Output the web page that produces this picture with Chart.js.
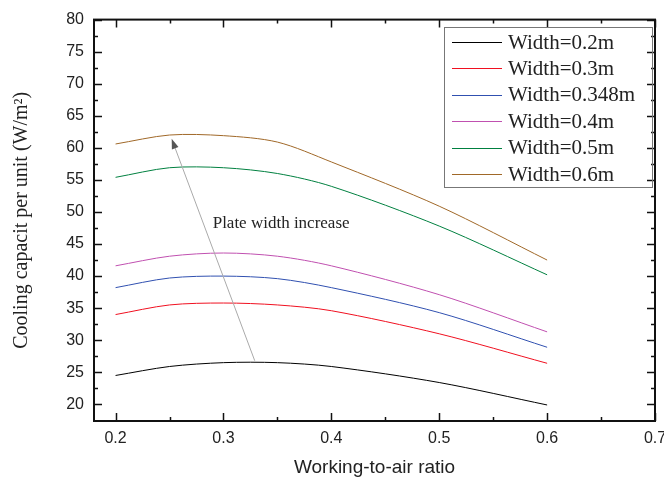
<!DOCTYPE html>
<html>
<head>
<meta charset="utf-8">
<script src="https://cdn.jsdelivr.net/npm/chart.js@4/dist/chart.umd.min.js"></script>
<style>
  html, body { margin: 0; padding: 0; background: #fff; }
  #wrap { width: 664px; height: 487px; }
</style>
</head>
<body>
<div id="wrap"><canvas id="grafico"></canvas></div>
<script>
// dados
const ratios = [0.2, 0.25, 0.3, 0.35, 0.4, 0.5, 0.6];
const w02 = [24.5, 25.9, 26.5, 26.5, 25.9, 23.4, 19.9];
const w03 = [34.0, 35.5, 35.8, 35.5, 34.6, 31.0, 26.4];
const w0348 = [38.2, 39.7, 40.0, 39.6, 38.2, 34.3, 28.9];
const w04 = [41.6, 43.1, 43.6, 43.1, 41.6, 37.1, 31.3];
const w05 = [55.4, 56.9, 56.9, 56.0, 54.0, 47.8, 40.2];
const w06 = [60.6, 62.0, 61.9, 60.9, 57.8, 50.9, 42.5];
const labels = ['Width=0.2m', 'Width=0.3m', 'Width=0.348m', 'Width=0.4m', 'Width=0.5m', 'Width=0.6m'];
const colors = ['#000000', '#f01020', '#3050b0', '#c050b0', '#008040', '#a06828'];
const xTicks = [0.2, 0.3, 0.4, 0.5, 0.6, 0.7];
const yTicks = [20, 25, 30, 35, 40, 45, 50, 55, 60, 65, 70, 75, 80];

const serie = (ys) => ys.map((y, i) => ({ x: ratios[i], y: y }));
const todas = [w02, w03, w0348, w04, w05, w06];

// moldura, ticks internos, legenda e seta
const extras = {
  id: 'extras',
  afterDraw(chart) {
    const ctx = chart.ctx;
    const a = chart.chartArea;
    const sx = chart.scales.x;
    const sy = chart.scales.y;
    ctx.save();
    ctx.strokeStyle = '#111';
    ctx.lineWidth = 1.5;
    // ticks x
    for (let v = 0.2; v <= 0.7001; v += 0.05) {
      const px = Math.round(sx.getPixelForValue(v)) + 0.5;
      const len = Math.abs((v * 10) - Math.round(v * 10)) < 0.01 ? 8 : 4;
      ctx.beginPath();
      ctx.moveTo(px, a.bottom); ctx.lineTo(px, a.bottom - len);
      ctx.moveTo(px, a.top); ctx.lineTo(px, a.top + len);
      ctx.stroke();
    }
    // ticks y
    for (let v = 20; v <= 80; v += 2.5) {
      const py = Math.round(sy.getPixelForValue(v)) + 0.5;
      const len = v % 5 === 0 ? 8 : 4;
      ctx.beginPath();
      ctx.moveTo(a.left, py); ctx.lineTo(a.left + len, py);
      ctx.moveTo(a.right, py); ctx.lineTo(a.right - len, py);
      ctx.stroke();
    }
    ctx.lineWidth = 2;
    ctx.strokeRect(a.left, a.top, a.right - a.left, a.bottom - a.top);

    // seta
    const x0 = sx.getPixelForValue(0.329), y0 = sy.getPixelForValue(26.8);
    const x1 = sx.getPixelForValue(0.252), y1 = sy.getPixelForValue(61.4);
    const ang = Math.atan2(y1 - y0, x1 - x0);
    ctx.strokeStyle = '#aaa';
    ctx.lineWidth = 1;
    ctx.beginPath();
    ctx.moveTo(x0, y0); ctx.lineTo(x1 - 8 * Math.cos(ang), y1 - 8 * Math.sin(ang));
    ctx.stroke();
    ctx.fillStyle = '#555';
    ctx.beginPath();
    ctx.moveTo(x1, y1);
    ctx.lineTo(x1 - 10 * Math.cos(ang) + 3.5 * Math.sin(ang), y1 - 10 * Math.sin(ang) - 3.5 * Math.cos(ang));
    ctx.lineTo(x1 - 10 * Math.cos(ang) - 3.5 * Math.sin(ang), y1 - 10 * Math.sin(ang) + 3.5 * Math.cos(ang));
    ctx.closePath();
    ctx.fill();
    ctx.fillStyle = '#222';
    ctx.font = '17px "Liberation Serif", "Times New Roman", serif';
    ctx.textBaseline = 'middle';
    ctx.fillText('Plate width increase', sx.getPixelForValue(0.29), sy.getPixelForValue(48.2));

    // legenda
    const lx = 444, ly = 27, lw = 208, lh = 160;
    ctx.strokeStyle = '#777';
    ctx.lineWidth = 1;
    ctx.strokeRect(lx + 0.5, ly + 0.5, lw, lh);
    ctx.font = '21px "Liberation Serif", "Times New Roman", serif';
    chart.data.datasets.forEach((ds, i) => {
      const yy = 42 + i * 26.4;
      ctx.strokeStyle = ds.borderColor;
      ctx.beginPath();
      ctx.moveTo(452, Math.round(yy) + 0.5); ctx.lineTo(502, Math.round(yy) + 0.5);
      ctx.stroke();
      ctx.fillStyle = '#222';
      ctx.fillText(ds.label, 508, yy + 1);
    });
    ctx.restore();
  }
};

new Chart(document.getElementById('grafico'), {
  type: 'line',
  data: {
    datasets: todas.map((ys, i) => ({
      label: labels[i],
      data: serie(ys),
      borderColor: colors[i],
      borderWidth: 1,
      pointRadius: 0,
      tension: 0.3,
      fill: false
    }))
  },
  options: {
    responsive: true,
    maintainAspectRatio: false,
    animation: false,
    layout: { padding: { left: 0, right: 9, top: 17, bottom: 0 } },
    plugins: { legend: { display: false }, tooltip: { enabled: false } },
    scales: {
      x: {
        type: 'linear',
        min: 0.18,
        max: 0.7,
        grid: { display: false, drawTicks: false },
        border: { display: false },
        afterBuildTicks: (s) => { s.ticks = xTicks.map(v => ({ value: v })); },
        afterFit: (s) => { s.height = 66; s.paddingLeft = 0; s.paddingRight = 0; },
        ticks: {
          padding: 8,
          color: '#222',
          font: { family: '"Liberation Sans", Arial, sans-serif', size: 16 },
          maxRotation: 0,
          callback: (v) => v.toFixed(1)
        },
        title: {
          display: true,
          text: 'Working-to-air ratio',
          color: '#222',
          font: { family: '"Liberation Sans", Arial, sans-serif', size: 19 },
          padding: { top: 8, bottom: 8 }
        }
      },
      y: {
        min: 17.4,
        max: 80,
        grid: { display: false, drawTicks: false },
        border: { display: false },
        afterBuildTicks: (s) => { s.ticks = yTicks.map(v => ({ value: v })); },
        afterFit: (s) => { s.width = 94; },
        ticks: {
          padding: 10,
          color: '#222',
          font: { family: '"Liberation Sans", Arial, sans-serif', size: 16 },
          callback: (v) => String(v)
        },
        title: {
          display: true,
          text: 'Cooling capacit per unit (W/m²)',
          color: '#222',
          font: { family: '"Liberation Serif", "Times New Roman", serif', size: 20 },
          padding: { top: 10, bottom: 0 }
        }
      }
    }
  },
  plugins: [extras]
});
</script>
</body>
</html>
